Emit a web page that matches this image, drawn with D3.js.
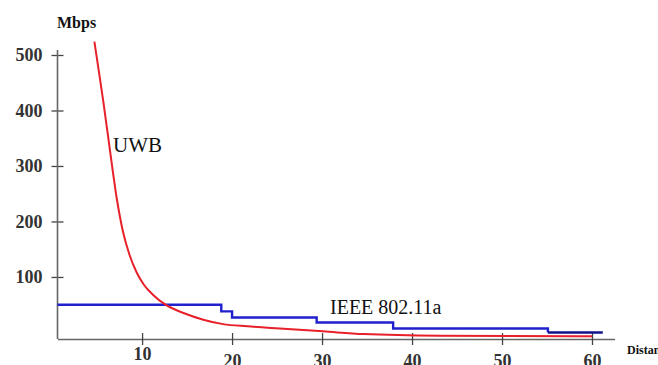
<!DOCTYPE html>
<html>
<head>
<meta charset="utf-8">
<script src="https://cdn.jsdelivr.net/npm/d3@7"></script>
<style>
  html, body { margin: 0; padding: 0; background: #fff; overflow: hidden; }
  svg text { font-family: "Liberation Serif", "Times New Roman", "DejaVu Serif", serif !important; }
</style>
</head>
<body>
<div id="chart"></div>
<script>
const serif = "'Liberation Serif', 'Times New Roman', 'DejaVu Serif', serif";

// tick values
const xTicks = [10, 20, 30, 40, 50, 60];
const yTicks = [100, 200, 300, 400, 500];

// UWB curve (distance, Mbps)
const uwbDist = [4.7, 5.2, 5.7, 6.2, 6.7, 7.2, 7.9, 8.6, 9.4, 10.2, 11.2, 12.6, 14.6, 16.8, 19.0, 21.7, 25.3, 30.1, 34.6, 43.1, 60];
const uwbRate = [524, 470, 415, 356, 296, 240, 180, 140, 108, 86, 68, 50, 35, 23, 15, 11, 7, 2, -3, -6, -7];

// IEEE 802.11a steps (distance where a level starts, Mbps)
const wifiDist = [0.6, 18.8, 20.0, 29.4, 37.9, 55.1, 61.2];
const wifiRate = [50, 38, 27, 18, 7, 0, 0];

const width = 658, height = 365;

const svg = d3.select("#chart").append("svg")
    .attr("width", width)
    .attr("height", height)
    .attr("font-family", serif);

const x = d3.scaleLinear()
    .domain([0.6, 62.5])
    .range([57.5, 614.5]);

const y = d3.scaleLinear()
    .domain([-11.8, 500])
    .range([339, 55]);

const tickColor = "#666";

// x axis
const xAxis = svg.append("g")
    .attr("transform", `translate(0,${y(-11.8)})`)
    .call(d3.axisBottom(x).tickValues(xTicks).tickSize(6).tickSizeOuter(0))
    .attr("font-family", serif);
xAxis.select(".domain").attr("stroke", tickColor).attr("stroke-width", 1.6);
xAxis.selectAll(".tick line")
    .attr("y1", -6).attr("y2", 6)
    .attr("stroke", "#444").attr("stroke-width", 1.3);
xAxis.selectAll(".tick text")
    .attr("y", d => d === 10 ? 21 : 28)
    .attr("dy", 0)
    .attr("font-size", 18)
    .attr("font-weight", "bold")
    .attr("fill", "#333");

// y axis
const yAxis = svg.append("g")
    .attr("transform", `translate(${x(0.6)},0)`)
    .call(d3.axisLeft(y).tickValues(yTicks).tickSize(6).tickSizeOuter(0))
    .attr("font-family", serif);
yAxis.select(".domain").remove();
yAxis.append("line")
    .attr("x1", 0).attr("x2", 0)
    .attr("y1", 50).attr("y2", y(-11.8))
    .attr("stroke", tickColor).attr("stroke-width", 1.6);
yAxis.selectAll(".tick line")
    .attr("x1", -6).attr("x2", 6)
    .attr("stroke", "#444").attr("stroke-width", 1.3);
yAxis.selectAll(".tick text")
    .attr("x", -15)
    .attr("font-size", 18)
    .attr("font-weight", "bold")
    .attr("fill", "#333");

// 802.11a step line
const wifiPts = wifiDist.map((d, i) => [d, wifiRate[i]]);
svg.append("path")
    .datum(wifiPts.slice(0, 6))
    .attr("fill", "none")
    .attr("stroke", "#2020cc")
    .attr("stroke-width", 2.4)
    .attr("d", d3.line().x(d => x(d[0])).y(d => y(d[1])).curve(d3.curveStepAfter));
svg.append("path")
    .datum(wifiPts.slice(5))
    .attr("fill", "none")
    .attr("stroke", "#12128a")
    .attr("stroke-width", 2.6)
    .attr("d", d3.line().x(d => x(d[0])).y(d => y(d[1])));

// UWB curve
svg.append("path")
    .datum(uwbDist.map((d, i) => [d, uwbRate[i]]))
    .attr("fill", "none")
    .attr("stroke", "#e8202a")
    .attr("stroke-width", 2)
    .attr("d", d3.line().x(d => x(d[0])).y(d => y(d[1])).curve(d3.curveMonotoneX));

// labels
svg.append("text")
    .attr("x", 57).attr("y", 28)
    .attr("font-size", 16)
    .attr("font-weight", "bold")
    .attr("fill", "#111")
    .text("Mbps");

svg.append("text")
    .attr("x", 113).attr("y", 152)
    .attr("font-size", 21)
    .attr("fill", "#111")
    .text("UWB");

svg.append("text")
    .attr("x", 330).attr("y", 314)
    .attr("font-size", 20)
    .attr("fill", "#111")
    .text("IEEE 802.11a");

svg.append("text")
    .attr("x", 627).attr("y", 354)
    .attr("font-size", 12)
    .attr("font-weight", "bold")
    .attr("fill", "#111")
    .text("Distance");
</script>
</body>
</html>
